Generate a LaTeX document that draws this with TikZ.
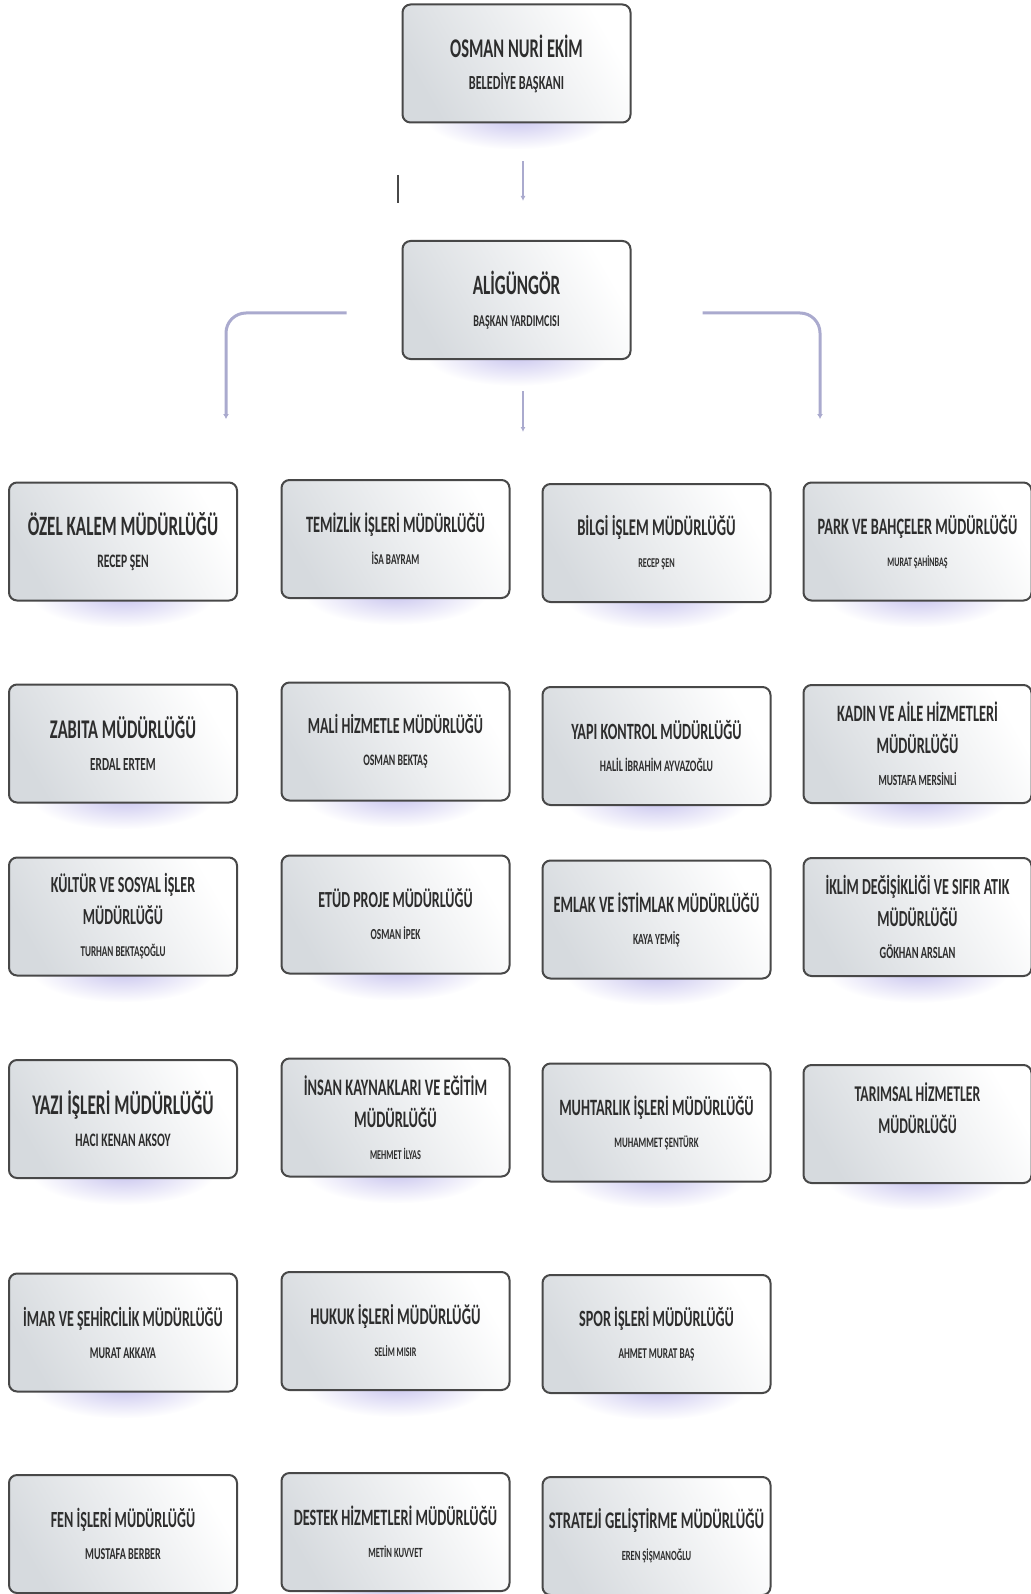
\documentclass[tikz,border=0pt]{standalone}
\usepackage{fontspec}
\usepackage{xcolor}
\usepackage{tikz}
\usetikzlibrary{arrows.meta}
\usetikzlibrary{calc}

\newfontfamily\birimfont[FakeStretch=0.61]{Carlito}
\definecolor{golge}{RGB}{200,196,238}
\definecolor{hat}{RGB}{170,170,206}
\definecolor{kutu}{RGB}{214,218,222}
\definecolor{kenar}{RGB}{72,72,72}
\definecolor{yazi}{RGB}{45,45,45}

\tikzset{
  birim/.style={draw=kenar, line width=2pt, rounded corners=8pt,
    left color=kutu, right color=white, shading angle=120,
    minimum width=228pt, minimum height=118pt, inner sep=0pt,
    align=center, text=yazi},
  ok/.style={draw=hat, line width=1.6pt, -{Latex[length=5pt,width=5pt]}},
  kol/.style={draw=hat, line width=3pt, rounded corners=20pt, -{Latex[length=5pt,width=6pt]}}
}

\begin{document}
\begin{tikzpicture}[x=1pt,y=-1pt]
\useasboundingbox (0,0) rectangle (1030,1594);
%% kutular: ad / x / y / baslik boyu / isim boyu / baslik / isim
\foreach \ad/\x/\y/\ts/\ns/\baslik/\kisi in {
  baskan/516.5/63.5/27/20/{OSMAN NURİ EKİM}/{BELEDİYE BAŞKANI},
  yrd/516.5/300/28/16.5/{ALİGÜNGÖR}/{BAŞKAN YARDIMCISI},
  ozel/123/541.5/28/19/{ÖZEL KALEM MÜDÜRLÜĞÜ}/{RECEP ŞEN},
  temizlik/395.5/539/23.5/15/{TEMİZLİK İŞLERİ MÜDÜRLÜĞÜ}/{İSA BAYRAM},
  bilgi/656.5/543/24/13.5/{BİLGİ İŞLEM MÜDÜRLÜĞÜ}/{RECEP ŞEN},
  park/917.5/541.5/23.5/13/{PARK VE BAHÇELER MÜDÜRLÜĞÜ}/{MURAT ŞAHİNBAŞ},
  zabita/123/743.5/27/18.5/{ZABITA MÜDÜRLÜĞÜ}/{ERDAL ERTEM},
  mali/395.5/741.5/23/16/{MALİ HİZMETLE MÜDÜRLÜĞÜ}/{OSMAN BEKTAŞ},
  yapi/656.5/746/23.3/16/{YAPI KONTROL MÜDÜRLÜĞÜ}/{HALİL İBRAHİM AYVAZOĞLU},
  kadin/917.5/744/23.5/15.5/{KADIN VE AİLE HİZMETLERİ\\MÜDÜRLÜĞÜ}/{MUSTAFA MERSİNLİ},
  kultur/123/916.5/23/15/{KÜLTÜR VE SOSYAL İŞLER\\MÜDÜRLÜĞÜ}/{TURHAN BEKTAŞOĞLU},
  etud/395.5/914.5/23/15.3/{ETÜD PROJE MÜDÜRLÜĞÜ}/{OSMAN İPEK},
  emlak/656.5/919.5/23.5/15.5/{EMLAK VE İSTİMLAK MÜDÜRLÜĞÜ}/{KAYA YEMİŞ},
  iklim/917.5/917/23/17/{İKLİM DEĞİŞİKLİĞİ VE SIFIR ATIK\\MÜDÜRLÜĞÜ}/{GÖKHAN ARSLAN},
  yazi/123/1119/28.5/19/{YAZI İŞLERİ MÜDÜRLÜĞÜ}/{HACI KENAN AKSOY},
  insan/395.5/1117.5/23.7/13.5/{İNSAN KAYNAKLARI VE EĞİTİM\\MÜDÜRLÜĞÜ}/{MEHMET İLYAS},
  muhtar/656.5/1122.5/23.4/14.4/{MUHTARLIK İŞLERİ MÜDÜRLÜĞÜ}/{MUHAMMET ŞENTÜRK},
  tarim/917.5/1124/22.5/15/{TARIMSAL HİZMETLER\\MÜDÜRLÜĞÜ}/{},
  imar/123/1332.5/23/16.4/{İMAR VE ŞEHİRCİLİK MÜDÜRLÜĞÜ}/{MURAT AKKAYA},
  hukuk/395.5/1331/23.9/13.2/{HUKUK İŞLERİ MÜDÜRLÜĞÜ}/{SELİM MISIR},
  spor/656.5/1334/23.3/15/{SPOR İŞLERİ MÜDÜRLÜĞÜ}/{AHMET MURAT BAŞ},
  fen/123/1534/23.1/16.6/{FEN İŞLERİ MÜDÜRLÜĞÜ}/{MUSTAFA BERBER},
  destek/395.5/1532/23.4/14/{DESTEK HİZMETLERİ MÜDÜRLÜĞÜ}/{METİN KUVVET},
  strateji/656.5/1536/23.9/14/{STRATEJİ GELİŞTİRME MÜDÜRLÜĞÜ}/{EREN ŞİŞMANOĞLU}}
{
  \shade[inner color=golge, outer color=white] (\x,\y+54) ellipse (92 and 32);
  \node[birim, font={\birimfont\bfseries\fontsize{\ts}{32}\selectfont}] (\ad) at (\x,\y)
    {\baslik\\\fontsize{\ns}{28}\selectfont\kisi};
}
%% baglantilar
\coordinate (orta) at (523,432);
\coordinate (sol) at (226,419);
\coordinate (sag) at (820,419);
\coordinate (cizgi1) at (398,175);
\coordinate (cizgi2) at (398,203);
\draw[ok, shorten <=38pt, shorten >=39pt] ([xshift=6.5pt]baskan.south) -- ([xshift=6.5pt]yrd.north);
\draw[ok, shorten <=31pt] ([xshift=6.5pt]yrd.south) -- (orta);
\draw[kol, shorten <=55pt] ([yshift=-13pt]yrd.west) -| (sol);
\draw[kol, shorten <=71pt] ([yshift=-13pt]yrd.east) -| (sag);
\draw[draw=kenar, line width=1.6pt] (cizgi1) -- (cizgi2);
\end{tikzpicture}
\end{document}
